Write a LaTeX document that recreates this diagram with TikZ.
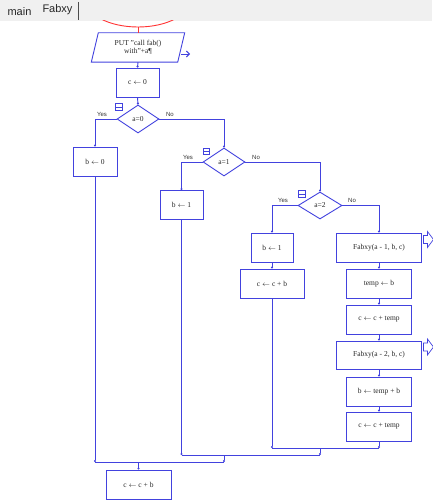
\documentclass[tikz,border=0pt]{standalone}
\usepackage{fontspec}
\setmainfont{Liberation Serif}
\newfontfamily\uisans{Liberation Sans}
\usetikzlibrary{shapes.geometric,arrows.meta}
\definecolor{fc}{RGB}{66,66,222}
\definecolor{tabbg}{RGB}{240,240,240}
\tikzset{
  every node/.style={font=\fontsize{7.5}{8.5}\selectfont, text=black!85},
  proc/.style={draw=fc, line width=0.9pt, rectangle, inner sep=0pt, minimum height=29pt},
  dec/.style={draw=fc, line width=0.9pt, diamond, aspect=1.5, inner sep=0pt, minimum width=42pt, minimum height=28pt},
  conn/.style={draw=fc, line width=0.9pt},
  ent/.style={conn, -{Circle[length=2pt]}},
  lbl/.style={font=\uisans\fontsize{6}{6.5}\selectfont, text=black!80},
  tick/.style={draw=fc, line width=0.7pt},
}
\begin{document}
\begin{tikzpicture}[x=1pt,y=-1pt]
\useasboundingbox (0,0) rectangle (432,500);
% tab bar
\fill[tabbg] (0,0) rectangle (432,21);
\draw[white, line width=0.8pt] (0,21.5) -- (432,21.5);
\node[font=\uisans\fontsize{11}{12}\selectfont, text=black!85] (tabmain) at (19.5,11.5) {main};
\node[font=\uisans\fontsize{11}{12}\selectfont, text=black!85] (tabfab) at (57.5,10) {Fabxy};
\draw[black!70, line width=1.2pt] (78.5,2) -- (78.5,20);
% red terminator arc (cut off)
\begin{scope}
\clip (0,21) rectangle (432,40);
\draw[red!80, line width=0.9pt] (138,0) ellipse [x radius=52, y radius=27];
\end{scope}
\coordinate (start) at (138,27);
% PUT parallelogram
\node[inner sep=0pt, minimum width=86pt, minimum height=29pt, align=center] (put) at (138,47.5) {PUT "call fab()\\with"+a¶};
\draw[conn] ([xshift=3.5pt]put.north west) -- ([xshift=3.5pt]put.north east) -- ([xshift=-3.5pt]put.south east) -- ([xshift=-3.5pt]put.south west) -- cycle;
\coordinate (putout) at (190,54);
\draw[conn, -{Straight Barb[length=3pt,width=6pt]}] (181,54) -- (putout);
% nodes
\node[proc, minimum width=43pt] (c0) at (137.5,82.5) {c $\leftarrow$ 0};
\node[dec] (d0) at (138,119) {a=0};
\node[proc, minimum width=44pt] (b0) at (95,161.5) {b $\leftarrow$ 0};
\node[dec] (d1) at (224,162) {a=1};
\node[proc, minimum width=43pt] (b1a) at (181.5,205) {b $\leftarrow$ 1};
\node[dec, minimum width=44pt, minimum height=27pt] (d2) at (320,205.5) {a=2};
\node[proc, minimum width=42pt] (b1b) at (272,247.5) {b $\leftarrow$ 1};
\node[proc, minimum width=64pt] (cb1) at (272,283.5) {c $\leftarrow$ c + b};
\node[proc, minimum width=85pt] (f1) at (379,247.5) {Fabxy(a - 1, b, c)};
\node[proc, minimum width=65pt] (tb) at (379,283.5) {temp $\leftarrow$ b};
\node[proc, minimum width=65pt] (cct1) at (379,319.5) {c $\leftarrow$ c + temp};
\node[proc, minimum width=85pt, minimum height=28pt] (f2) at (379,355) {Fabxy(a - 2, b, c)};
\node[proc, minimum width=65pt] (btb) at (379,391.5) {b $\leftarrow$ temp + b};
\node[proc, minimum width=65pt] (cct2) at (379,426.5) {c $\leftarrow$ c + temp};
\node[proc, minimum width=65pt] (cbf) at (138.5,484.5) {c $\leftarrow$ c + b};
% call arrows
\foreach \n in {f1,f2}{
  \draw[conn, line width=0.7pt] ([xshift=1.5pt,yshift=4pt]\n.east) -- ++(4,0) -- ++(0,4) -- ++(6,-8) -- ++(-6,-8) -- ++(0,4) -- ++(-4,0) -- cycle;
}
% diamond icons
\foreach \p in {(119,107),(206.5,151.5),(302,194)}{
  \draw[tick] \p ++(-3.2,-3.2) rectangle ++(6.4,6.4);
  \draw[tick] \p ++(-3.2,0) -- ++(6.4,0);
}
% Yes / No labels
\node[lbl] (y0) at (102,114) {Yes};
\node[lbl] (n0) at (170,114) {No};
\node[lbl] (y1) at (188,157) {Yes};
\node[lbl] (n1) at (256,157) {No};
\node[lbl] (y2) at (283,200.5) {Yes};
\node[lbl] (n2) at (352,200.5) {No};
% connectors
\draw[red!80, line width=0.9pt] (start) -- (put.north);
\draw[ent] (put.south) -- (c0.north);
\draw[ent] (c0.south) -- (d0.north);
\draw[ent] (d0.west) -| (b0.north);
\draw[ent] (d0.east) -| (d1.north);
\draw[ent] (d1.west) -| (b1a.north);
\draw[ent] (d1.east) -| (d2.north);
\draw[ent] (d2.west) -| (b1b.north);
\draw[ent] (d2.east) -| (f1.north);
\draw[ent] (b1b.south) -- (cb1.north);
\draw[ent] (f1.south) -- (tb.north);
\draw[ent] (tb.south) -- (cct1.north);
\draw[ent] (cct1.south) -- (f2.north);
\draw[ent] (f2.south) -- (btb.north);
\draw[ent] (btb.south) -- (cct2.north);
% merges
\coordinate (j2) at (320,448);
\coordinate (j1) at (224,455);
\coordinate (j0) at (138.5,462);
\draw[ent] (cct2.south) -- (cct2.south |- j2);
\draw[ent] (cb1.south) -- (cb1.south |- j2);
\draw[conn] (cb1.south |- j2) -- (cct2.south |- j2);
\draw[ent] (j2) -- (j2 |- j1);
\draw[ent] (b1a.south) -- (b1a.south |- j1);
\draw[conn] (b1a.south |- j1) -- (j2 |- j1);
\draw[ent] (j1) -- (j1 |- j0);
\draw[ent] (b0.south) -- (b0.south |- j0);
\draw[conn] (b0.south |- j0) -- (j1 |- j0);
\draw[ent] (j0) -- (cbf.north);
\end{tikzpicture}
\end{document}
